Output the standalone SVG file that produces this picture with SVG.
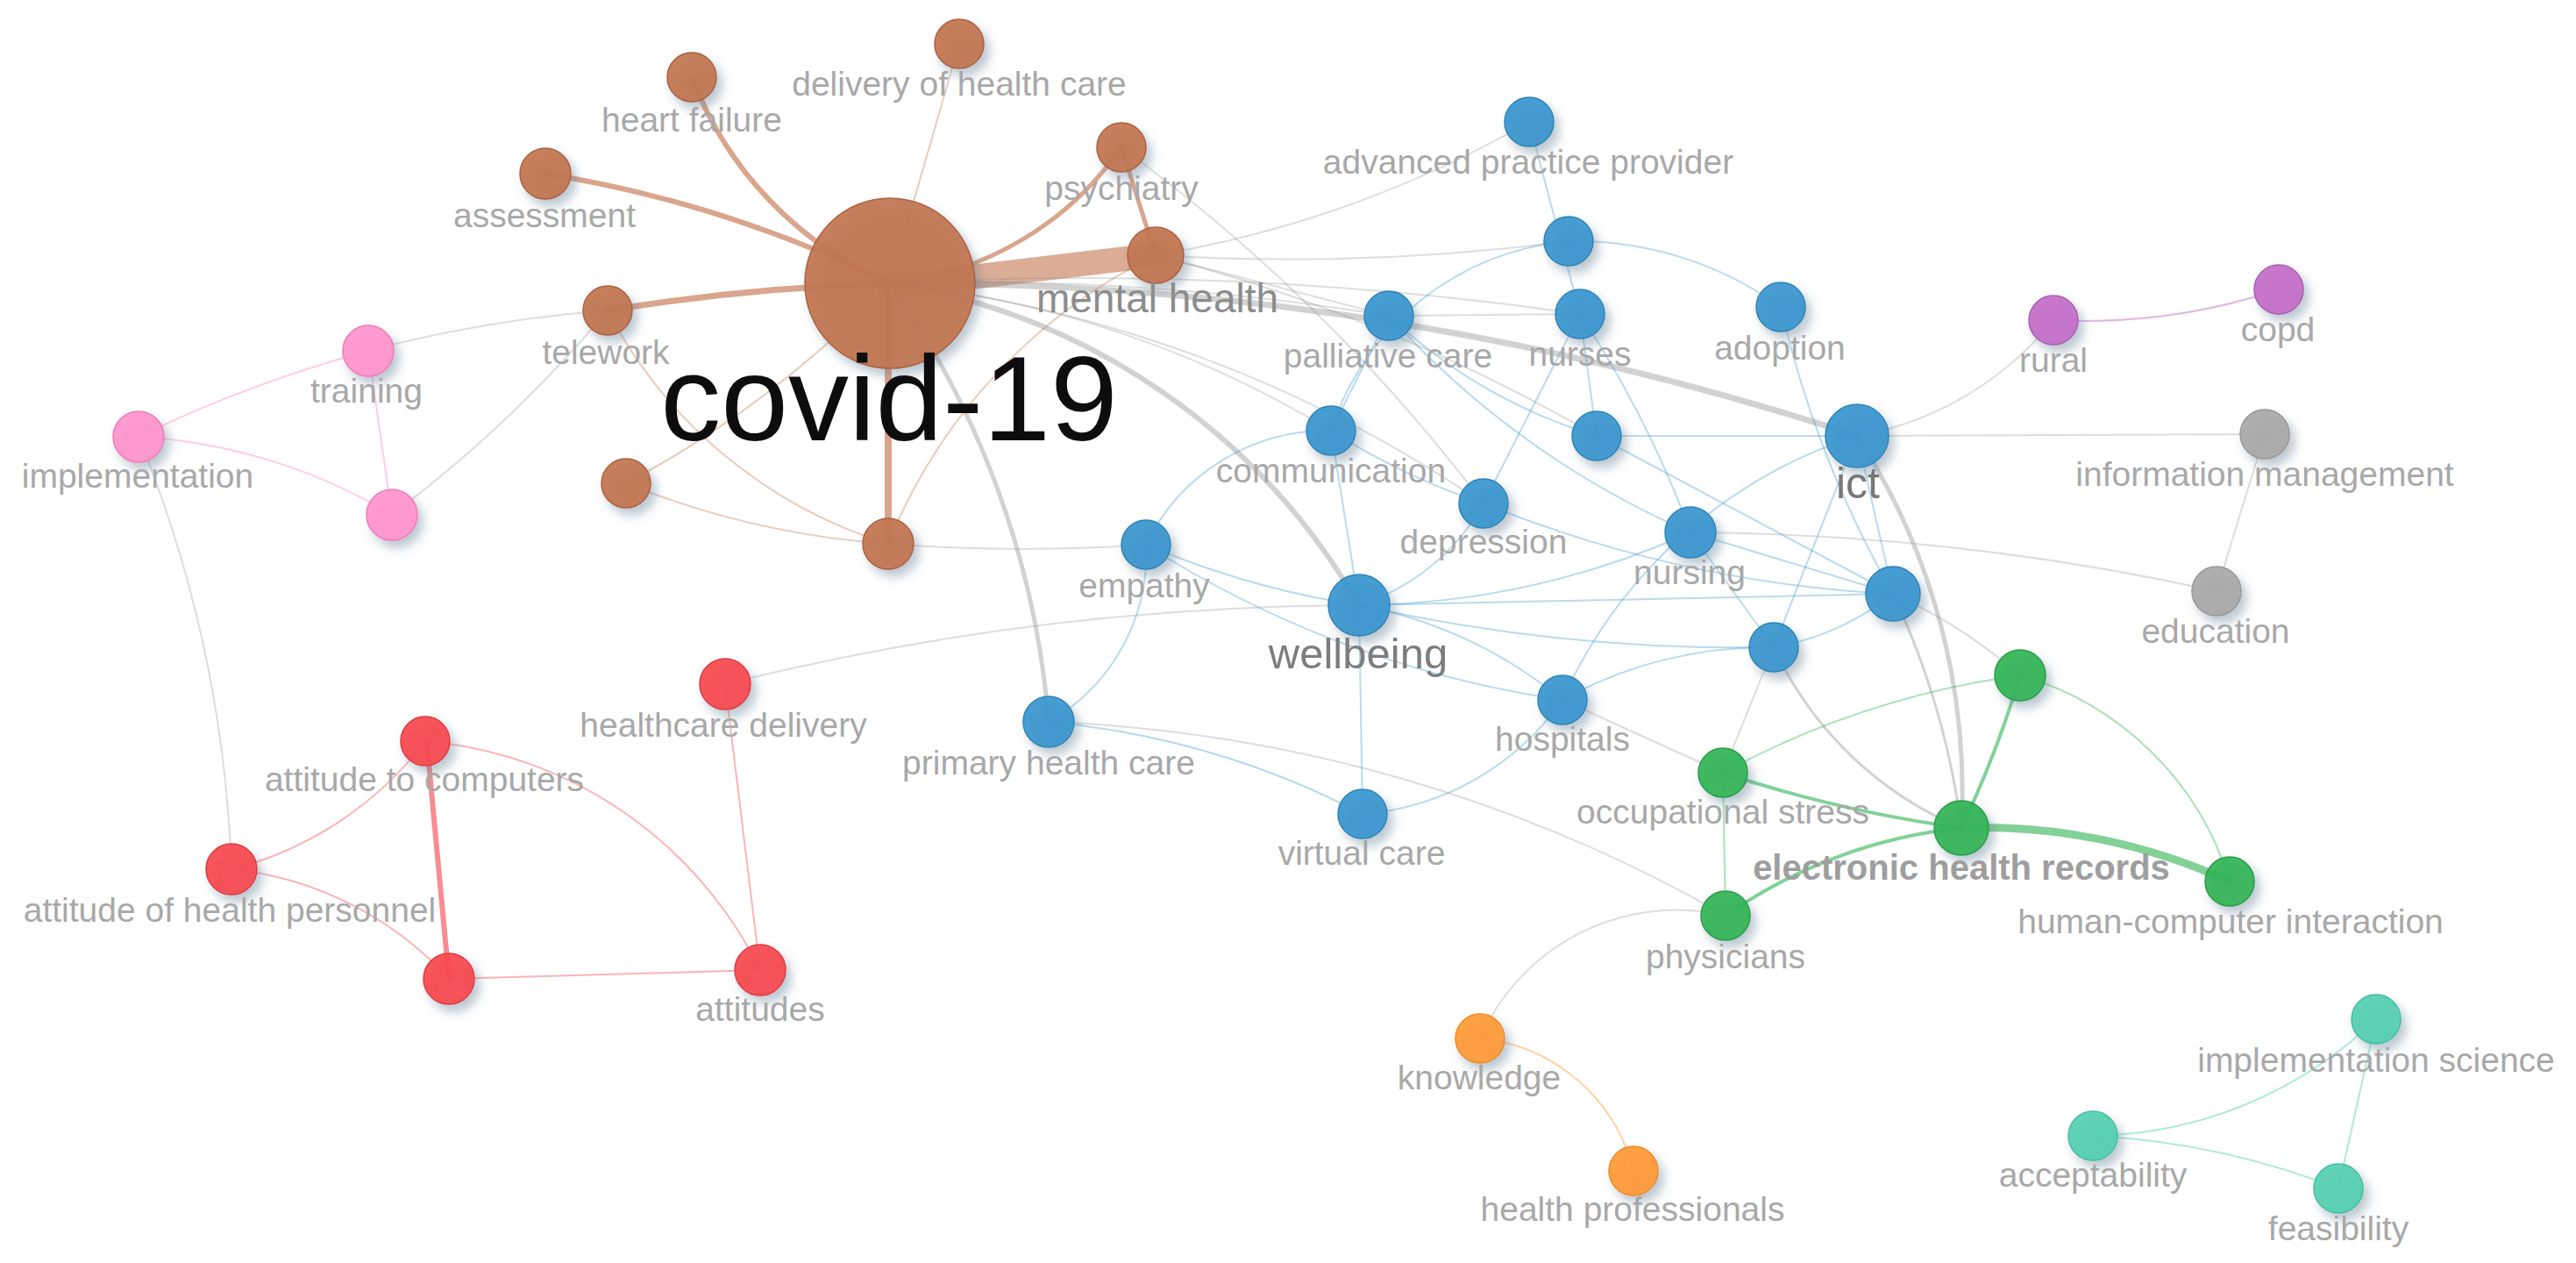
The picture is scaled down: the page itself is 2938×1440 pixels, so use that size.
<svg xmlns="http://www.w3.org/2000/svg" width="2938" height="1440" viewBox="0 0 2938 1440">
<defs>
<filter id="sh" x="-50%" y="-50%" width="200%" height="200%">
<feDropShadow dx="6" dy="8" stdDeviation="6" flood-color="#5d7d92" flood-opacity="0.45"/>
</filter>
</defs>
<style>
.lbl{font-family:"Liberation Sans",Arial,sans-serif;font-size:39px;fill:#a8a8a8;text-anchor:middle}
.e{fill:none;stroke-linecap:round}
.g{stroke:#8e8e8e;stroke-opacity:.3;stroke-width:2}
.gt{stroke:#8e8e8e;stroke-opacity:.4}
.b{stroke:#3a96cc;stroke-opacity:.35;stroke-width:2}
.br{stroke:#c0693f;stroke-opacity:.35;stroke-width:2}
.brt{stroke:#c0693f;stroke-opacity:.6}
.pk{stroke:#ff7fbf;stroke-opacity:.4;stroke-width:2}
.rd{stroke:#f5404a;stroke-opacity:.4;stroke-width:2}
.gr{stroke:#2eb352;stroke-opacity:.4;stroke-width:2}
.grt{stroke:#2eb352;stroke-opacity:.6}
.tl{stroke:#4fcdae;stroke-opacity:.45;stroke-width:2}
.pu{stroke:#c060c4;stroke-opacity:.45;stroke-width:2}
.or{stroke:#ff9a35;stroke-opacity:.45;stroke-width:2}
.node circle{filter:url(#sh);fill-opacity:.93;stroke-width:1.5}
.brown circle{fill:#c27550;stroke:#ad603c}
.pink circle{fill:#ff94cc;stroke:#f07ab8}
.red circle{fill:#f8484f;stroke:#de3a41}
.blue circle{fill:#3a97cf;stroke:#2c84b8}
.grey circle{fill:#a9a9a9;stroke:#979797}
.purple circle{fill:#c46fc8;stroke:#ad5ab2}
.green circle{fill:#33b556;stroke:#289c46}
.orange circle{fill:#ff9a35;stroke:#ee8a25}
.teal circle{fill:#55d0b2;stroke:#44bda0}
</style>
<rect width="2938" height="1440" fill="#ffffff"/>
<g id="connectors">
<path class="e brt" stroke-width="6" d="M1015 323 A415 415 0 0 1 789 88"/>
<path class="e brt" stroke-width="6" d="M622 198 A1400 1400 0 0 1 1015 323"/>
<path class="e brt" stroke-width="7" d="M693 354 A2500 2500 0 0 1 1015 323"/>
<path class="e brt" stroke-width="5" d="M1015 323 A366 366 0 0 0 1279 168"/>
<path class="e" stroke="#c0693f" stroke-opacity=".55" stroke-width="28" stroke-linecap="butt" d="M1015 327 L1318 291"/>
<path class="e br" d="M1015 323 L1094 50"/>
<path class="e brt" stroke-width="5" d="M1279 168 L1318 291"/>
<path class="e brt" stroke-width="8" d="M1013 323 L1013 620"/>
<path class="e br" d="M1015 323 A1200 1200 0 0 1 714 551"/>
<path class="e br" d="M714 551 A980 980 0 0 0 1013 620"/>
<path class="e br" d="M693 354 A540 540 0 0 0 1013 620"/>
<path class="e br" d="M1318 291 A630 630 0 0 0 1013 620"/>
<path class="e pk" d="M158 498 A1500 1500 0 0 1 420 400"/>
<path class="e pk" d="M158 498 A630 630 0 0 1 447 587"/>
<path class="e pk" d="M420 400 L447 587"/>
<path class="e g" d="M158 498 A1440 1440 0 0 1 264 991"/>
<path class="e g" d="M420 400 A1500 1500 0 0 1 693 354"/>
<path class="e g" d="M447 587 A1500 1500 0 0 0 693 354"/>
<path class="e rd" d="M264 991 A400 400 0 0 0 485 845"/>
<path class="e rd" d="M264 991 A390 390 0 0 1 512 1116"/>
<path class="e" stroke="#f5404a" stroke-opacity=".6" stroke-width="6" d="M487 848 L512 1116"/>
<path class="e rd" stroke-width="3" d="M512 1116 L867 1106"/>
<path class="e rd" d="M485 845 A470 470 0 0 1 867 1106"/>
<path class="e rd" d="M827 780 L867 1106"/>
<path class="e g" d="M827 780 A3020 3020 0 0 1 1550 690"/>
<path class="e g" d="M1013 620 A2000 2000 0 0 0 1307 621"/>
<path class="e gt" stroke-width="6" d="M1015 323 A752 752 0 0 1 1550 690"/>
<path class="e gt" stroke-width="7" d="M1015 323 A3466 3466 0 0 1 2118 497"/>
<path class="e gt" stroke-width="5" d="M1015 323 A1010 1010 0 0 1 1196 823"/>
<path class="e gt" stroke-width="5" d="M2118 497 A745 745 0 0 1 2237 944"/>
<path class="e gt" stroke-width="3" d="M2159 677 A900 900 0 0 1 2237 944"/>
<path class="e gt" stroke-width="3" d="M2023 738 A410 410 0 0 0 2237 944"/>
<path class="e g" d="M2023 738 L1965 881"/>
<path class="e g" d="M1782 798 L1965 881"/>
<path class="e g" d="M1196 823 A1680 1680 0 0 1 1968 1044"/>
<path class="e g" d="M1968 1044 A245 245 0 0 0 1688 1184"/>
<path class="e g" d="M2159 677 A600 600 0 0 1 2304 770"/>
<path class="e g" d="M1928 607 A2850 2850 0 0 1 2528 674"/>
<path class="e g" d="M2118 497 L2583 495"/>
<path class="e g" d="M2583 495 L2528 674"/>
<path class="e g" d="M2342 365 A370 370 0 0 1 2118 497"/>
<path class="e g" d="M1318 291 A1280 1280 0 0 0 1744 139"/>
<path class="e g" d="M1318 291 A2500 2500 0 0 0 1789 275"/>
<path class="e g" d="M1318 291 L1584 360"/>
<path class="e g" d="M1318 291 A2000 2000 0 0 1 1821 497"/>
<path class="e g" d="M1279 168 A2000 2000 0 0 1 1692 574"/>
<path class="e g" d="M1015 323 A3000 3000 0 0 1 1584 360"/>
<path class="e g" d="M1015 323 A1200 1200 0 0 1 1518 491"/>
<path class="e g" d="M1015 323 A4000 4000 0 0 1 1802 358"/>
<path class="e g" d="M1015 323 A1500 1500 0 0 1 1692 574"/>
<path class="e grt" stroke-width="4" d="M1965 881 A1500 1500 0 0 0 2237 944"/>
<path class="e gr" d="M1965 881 A1000 1000 0 0 1 2304 770"/>
<path class="e gr" d="M1965 881 L1968 1044"/>
<path class="e grt" stroke-width="4" d="M2237 944 A1200 1200 0 0 0 2304 770"/>
<path class="e grt" stroke-width="9" d="M2237 944 A676 676 0 0 1 2543 1005"/>
<path class="e grt" stroke-width="4" d="M1968 1044 A570 570 0 0 1 2237 944"/>
<path class="e gr" d="M2304 770 A350 350 0 0 1 2543 1005"/>
<path class="e or" d="M1688 1184 A200 200 0 0 1 1863 1335"/>
<path class="e tl" d="M2387 1295 A475 475 0 0 0 2710 1162"/>
<path class="e tl" d="M2387 1295 A890 890 0 0 1 2667 1355"/>
<path class="e tl" d="M2710 1162 L2667 1355"/>
<path class="e pu" d="M2342 365 A700 700 0 0 0 2599 330"/>
<path class="e b" d="M1744 139 L1802 358"/>
<path class="e b" d="M1789 275 A400 400 0 0 1 2031 350"/>
<path class="e b" d="M1789 275 A313 313 0 0 0 1518 491"/>
<path class="e g" d="M1584 360 L1802 358"/>
<path class="e b" d="M1584 360 L1518 491"/>
<path class="e b" d="M1584 360 A600 600 0 0 0 1821 497"/>
<path class="e b" d="M1584 360 A1000 1000 0 0 0 1928 607"/>
<path class="e b" d="M1802 358 L1692 574"/>
<path class="e b" d="M1802 358 L1821 497"/>
<path class="e b" d="M1802 358 A1200 1200 0 0 1 1928 607"/>
<path class="e b" d="M1518 491 L1550 690"/>
<path class="e b" d="M1307 621 A230 230 0 0 1 1518 491"/>
<path class="e b" d="M1518 491 A800 800 0 0 0 1692 574"/>
<path class="e b" d="M1307 621 A1000 1000 0 0 0 1550 690"/>
<path class="e b" d="M1307 621 A1200 1200 0 0 0 1782 798"/>
<path class="e b" d="M1307 621 A220 220 0 0 1 1196 823"/>
<path class="e b" d="M1196 823 A970 970 0 0 1 1554 928"/>
<path class="e b" d="M1550 690 L1554 928"/>
<path class="e b" d="M1550 690 A250 250 0 0 0 1692 574"/>
<path class="e b" d="M1550 690 A940 940 0 0 0 1928 607"/>
<path class="e b" d="M1550 690 L2159 677"/>
<path class="e b" d="M1550 690 A2000 2000 0 0 0 2023 738"/>
<path class="e b" d="M1550 690 A510 510 0 0 1 1782 798"/>
<path class="e b" d="M1782 798 A306 306 0 0 1 1554 928"/>
<path class="e b" d="M1782 798 A480 480 0 0 1 2023 738"/>
<path class="e b" d="M2118 497 A553 553 0 0 0 1782 798"/>
<path class="e b" d="M1692 574 A1430 1430 0 0 0 2159 677"/>
<path class="e b" d="M1821 497 L2118 497"/>
<path class="e b" d="M1821 497 L2159 677"/>
<path class="e b" d="M1928 607 L2159 677"/>
<path class="e b" d="M2023 738 A300 300 0 0 0 2159 677"/>
<path class="e b" d="M2023 738 L1928 607"/>
<path class="e b" d="M2023 738 L2118 497"/>
<path class="e b" d="M2159 677 L2118 497"/>
<path class="e b" d="M2031 350 A1200 1200 0 0 0 2159 677"/>
</g>
<g id="nodes">
<g id="n-heart-failure" class="node brown"><circle cx="789" cy="88" r="28"/><text class="lbl" x="789" y="150">heart failure</text></g>
<g id="n-delivery-of-health-care" class="node brown"><circle cx="1094" cy="50" r="28"/><text class="lbl" x="1094" y="109">delivery of health care</text></g>
<g id="n-psychiatry" class="node brown"><circle cx="1279" cy="168" r="28"/><text class="lbl" x="1279" y="228">psychiatry</text></g>
<g id="n-assessment" class="node brown"><circle cx="622" cy="198" r="29"/><text class="lbl" x="621" y="259">assessment</text></g>
<g id="n-telework" class="node brown"><circle cx="693" cy="354" r="28"/><text class="lbl" x="691" y="415">telework</text></g>
<g id="n-brown-7" class="node brown"><circle cx="714" cy="551" r="28"/></g>
<g id="n-brown-8" class="node brown"><circle cx="1013" cy="620" r="29"/></g>
<g id="n-covid-19" class="node brown"><circle cx="1015" cy="323" r="97"/><text x="1014" y="502" font-family="Liberation Sans, Arial, sans-serif" font-size="138" fill="#0d0d0d" text-anchor="middle">covid-19</text></g>
<g id="n-mental-health" class="node brown"><circle cx="1318" cy="291" r="32"/><text class="lbl" x="1320" y="356" style="font-size:46px;fill:#8c8c8c">mental health</text></g>
<g id="n-training" class="node pink"><circle cx="420" cy="400" r="29"/><text class="lbl" x="418" y="459">training</text></g>
<g id="n-implementation" class="node pink"><circle cx="158" cy="498" r="29"/><text class="lbl" x="157" y="556">implementation</text></g>
<g id="n-pink-3" class="node pink"><circle cx="447" cy="587" r="29"/></g>
<g id="n-healthcare-delivery" class="node red"><circle cx="827" cy="780" r="29"/><text class="lbl" x="825" y="840">healthcare delivery</text></g>
<g id="n-attitude-to-computers" class="node red"><circle cx="485" cy="845" r="28"/><text class="lbl" x="484" y="902">attitude to computers</text></g>
<g id="n-attitude-of-health-personnel" class="node red"><circle cx="264" cy="991" r="29"/><text class="lbl" x="262" y="1051">attitude of health personnel</text></g>
<g id="n-red-4" class="node red"><circle cx="512" cy="1116" r="29"/></g>
<g id="n-attitudes" class="node red"><circle cx="867" cy="1106" r="29"/><text class="lbl" x="867" y="1164">attitudes</text></g>
<g id="n-advanced-practice-provider" class="node blue"><circle cx="1744" cy="139" r="28"/><text class="lbl" x="1743" y="198">advanced practice provider</text></g>
<g id="n-blue-1" class="node blue"><circle cx="1789" cy="275" r="28"/></g>
<g id="n-palliative-care" class="node blue"><circle cx="1584" cy="360" r="28"/><text class="lbl" x="1583" y="419">palliative care</text></g>
<g id="n-nurses" class="node blue"><circle cx="1802" cy="358" r="28"/><text class="lbl" x="1802" y="417">nurses</text></g>
<g id="n-adoption" class="node blue"><circle cx="2031" cy="350" r="28"/><text class="lbl" x="2030" y="410">adoption</text></g>
<g id="n-communication" class="node blue"><circle cx="1518" cy="491" r="28"/><text class="lbl" x="1518" y="550">communication</text></g>
<g id="n-blue-2" class="node blue"><circle cx="1821" cy="497" r="28"/></g>
<g id="n-depression" class="node blue"><circle cx="1692" cy="574" r="28"/><text class="lbl" x="1692" y="631">depression</text></g>
<g id="n-nursing" class="node blue"><circle cx="1928" cy="607" r="29"/><text class="lbl" x="1927" y="666">nursing</text></g>
<g id="n-blue-3" class="node blue"><circle cx="2159" cy="677" r="31"/></g>
<g id="n-blue-4" class="node blue"><circle cx="2023" cy="738" r="28"/></g>
<g id="n-empathy" class="node blue"><circle cx="1307" cy="621" r="28"/><text class="lbl" x="1305" y="681">empathy</text></g>
<g id="n-hospitals" class="node blue"><circle cx="1782" cy="798" r="28"/><text class="lbl" x="1782" y="856">hospitals</text></g>
<g id="n-primary-health-care" class="node blue"><circle cx="1196" cy="823" r="29"/><text class="lbl" x="1196" y="883">primary health care</text></g>
<g id="n-virtual-care" class="node blue"><circle cx="1554" cy="928" r="28"/><text class="lbl" x="1553" y="986">virtual care</text></g>
<g id="n-wellbeing" class="node blue"><circle cx="1550" cy="690" r="35"/><text class="lbl" x="1549" y="762" style="font-size:49px;fill:#7d7d7d">wellbeing</text></g>
<g id="n-ict" class="node blue"><circle cx="2118" cy="497" r="36"/><text class="lbl" x="2119" y="568" style="font-size:50px;fill:#777777">ict</text></g>
<g id="n-information-management" class="node grey"><circle cx="2583" cy="495" r="28"/><text class="lbl" x="2583" y="554">information management</text></g>
<g id="n-education" class="node grey"><circle cx="2528" cy="674" r="28"/><text class="lbl" x="2527" y="733">education</text></g>
<g id="n-rural" class="node purple"><circle cx="2342" cy="365" r="28"/><text class="lbl" x="2342" y="424">rural</text></g>
<g id="n-copd" class="node purple"><circle cx="2599" cy="330" r="28"/><text class="lbl" x="2598" y="389">copd</text></g>
<g id="n-green-1" class="node green"><circle cx="2304" cy="770" r="29"/></g>
<g id="n-occupational-stress" class="node green"><circle cx="1965" cy="881" r="28"/><text class="lbl" x="1965" y="939">occupational stress</text></g>
<g id="n-physicians" class="node green"><circle cx="1968" cy="1044" r="28"/><text class="lbl" x="1968" y="1104">physicians</text></g>
<g id="n-human-computer-interaction" class="node green"><circle cx="2543" cy="1005" r="28"/><text class="lbl" x="2544" y="1064">human-computer interaction</text></g>
<g id="n-electronic-health-records" class="node green"><circle cx="2237" cy="944" r="31"/><text class="lbl" x="2237" y="1003" style="font-size:40px;font-weight:bold;fill:#9e9e9e">electronic health records</text></g>
<g id="n-knowledge" class="node orange"><circle cx="1688" cy="1184" r="28"/><text class="lbl" x="1687" y="1242">knowledge</text></g>
<g id="n-health-professionals" class="node orange"><circle cx="1863" cy="1335" r="28"/><text class="lbl" x="1862" y="1392">health professionals</text></g>
<g id="n-implementation-science" class="node teal"><circle cx="2710" cy="1162" r="28"/><text class="lbl" x="2710" y="1222">implementation science</text></g>
<g id="n-acceptability" class="node teal"><circle cx="2387" cy="1295" r="28"/><text class="lbl" x="2387" y="1353">acceptability</text></g>
<g id="n-feasibility" class="node teal"><circle cx="2667" cy="1355" r="28"/><text class="lbl" x="2667" y="1414">feasibility</text></g>
</g>
</svg>
